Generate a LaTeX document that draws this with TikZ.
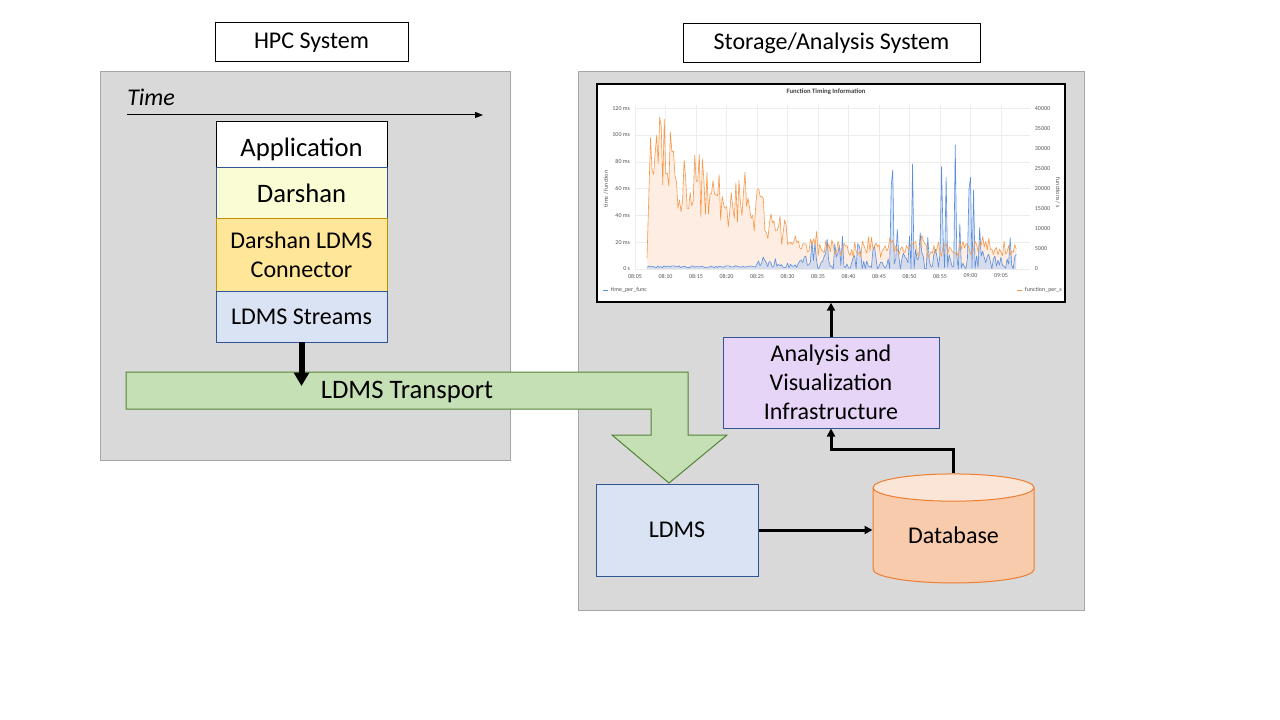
\documentclass[tikz,border=0pt]{standalone}
\usepackage{fontspec}
\setmainfont{Carlito}
\usetikzlibrary{arrows.meta,positioning,calc,shapes.geometric}
\definecolor{panelgray}{HTML}{D9D9D9}
\definecolor{paneledge}{HTML}{A6A6A6}
\definecolor{darshanfill}{HTML}{FAFCD3}
\definecolor{connfill}{HTML}{FFE699}
\definecolor{connedge}{HTML}{BF9000}
\definecolor{ldmsfill}{HTML}{DAE3F3}
\definecolor{ldmsedge}{HTML}{2F5597}
\definecolor{anafill}{HTML}{E6D5F7}
\definecolor{dbfill}{HTML}{F8CBAD}
\definecolor{dbtop}{HTML}{FBE5D6}
\definecolor{dbedge}{HTML}{ED7D31}
\definecolor{transfill}{HTML}{C5E0B4}
\definecolor{transedge}{HTML}{548235}
\definecolor{gridgray}{HTML}{EDEDED}
\definecolor{seriesorange}{HTML}{F7994A}
\definecolor{seriesblue}{HTML}{5A8FE0}
\definecolor{orangearea}{HTML}{FDEDE2}
\definecolor{chartlabel}{HTML}{555555}
\tikzset{
	%Define standard arrow tip
	>={Triangle[length=6pt,width=6pt]},
	%Define style for the grey panels
	panel/.style={rectangle, fill=panelgray, draw=paneledge, line width=0.75pt, inner sep=0pt},
	%Define style for the titles
	titlebox/.style={
		rectangle,
		draw=black, fill=white, line width=0.75pt,
		minimum height=29.25pt,
		font=\fontsize{18}{21}\selectfont},
	%Define style for the software stack
	layer/.style={
		rectangle,
		line width=0.75pt,
		minimum width=128.25pt,
		inner sep=0pt, outer sep=0pt,
		align=center},
	%Define style for boxes
	block/.style={
		rectangle,
		draw=ldmsedge, line width=0.75pt,
		align=center,
		font=\fontsize{18}{21.75}\selectfont},
	% Define arrow style
	pil/.style={
		->,
		line width=2.25pt},
	thickpil/.style={
		-{Triangle[length=10pt,width=11pt]},
		line width=4.5pt},
	% Define chart label style
	ticklabel/.style={font=\fontsize{4.5}{5}\selectfont, text=chartlabel, inner sep=0.5pt},
	declare function={
		envo(\t)=(\t<10)*(95-2.857*(\t-3)) + (\t>=10)*(\t<20)*(75-2.3*(\t-10))
			+ (\t>=20)*(\t<22)*(52-8*(\t-20)) + (\t>=22)*(\t<30)*(36-2.25*(\t-22)) + (\t>=30)*16;
		valo(\t)=envo(\t)*(0.5+0.7*rnd)+8*rnd^3;
		valb(\t)=(\t<20)*(1+1.5*rnd) + (\t>=20)*(\t<28)*(1+8*rnd^2)
			+ (\t>=28)*(\t<40)*(12*rnd^2+22*rnd^6) + (\t>=40)*(12*rnd^2+95*rnd^10);
	}
}

\begin{document}
\begin{tikzpicture}[x=0.75pt, y=-0.75pt]
	\useasboundingbox (0,0) rectangle (1280,720);
	% panels
	\node[panel, minimum width=307.5pt, minimum height=291pt] (hpc) at (305,266) {};
	\node[panel, minimum width=379.5pt, minimum height=403.5pt] (store) at (831,341) {};
	% titles
	\node[titlebox, minimum width=144.75pt] (hpctitle) at (311.5,42.5) {HPC System};
	\node[titlebox, minimum width=222.75pt] (storetitle) at (831.5,43.5) {Storage/Analysis System};
	% time axis
	\node[anchor=west, inner sep=0pt, font=\fontsize{18}{21}\selectfont\itshape] (time) at (127,97) {Time};
	\coordinate (t0) at (127,115);
	\coordinate (t1) at (483,115);
	\draw[-{Triangle[length=6pt,width=4.5pt]}, line width=0.75pt] (t0) -- (t1);
	% software stack
	\node[layer, draw=black, fill=white, minimum height=34.5pt, text height=21pt, font=\fontsize{20}{24}\selectfont] (app) at (301.5,145) {Application};
	\node[layer, draw=ldmsedge, fill=darshanfill, minimum height=38.25pt, font=\fontsize{20}{24}\selectfont, below=0pt of app] (darshan) {Darshan};
	\node[layer, draw=connedge, fill=connfill, minimum height=54pt, font=\fontsize{18}{21.75}\selectfont, below=0pt of darshan] (conn) {Darshan LDMS\\Connector};
	\node[layer, draw=ldmsedge, fill=ldmsfill, minimum height=38.25pt, font=\fontsize{18}{21.75}\selectfont, below=0pt of conn] (streams) {LDMS Streams};
	% LDMS transport
	\draw[fill=transfill, draw=transedge, line width=0.75pt]
		(126,372) -- (688,372) -- (688,435) -- (727,435) -- (669,483) -- (612,435)
		-- (651,435) -- (651,409) -- (126,409) -- cycle;
	\node[font=\fontsize{20}{24}\selectfont] (transport) at (407,392) {LDMS Transport};
	\coordinate (drop) at (301.5,386);
	\draw[thickpil] (streams.south) -- (drop);
	% storage side
	\node[block, fill=ldmsfill, minimum width=121.5pt, minimum height=69pt] (ldms) at (677,530) {LDMS};
	\node[cylinder, shape border rotate=90, aspect=0.3, draw=dbedge, line width=0.75pt,
		cylinder uses custom fill, cylinder body fill=dbfill, cylinder end fill=dbtop,
		minimum width=120.75pt, minimum height=81.75pt, inner sep=0pt,
		font=\fontsize{18}{21.75}\selectfont] (db) at (953.5,535.5) {Database};
	\node[block, fill=anafill, minimum width=162pt, minimum height=68.25pt] (ana) at (831,382.5) {Analysis and\\Visualization\\Infrastructure};
	% chart
	\node[rectangle, draw=black, fill=white, line width=1.1pt, minimum width=351pt, minimum height=163.5pt] (chart) at (831,193) {};
	\foreach \k in {0,...,12}
		\draw[gridgray, line width=0.4pt] ({635+30.5*\k},105) -- ({635+30.5*\k},269);
	\foreach \k in {0,...,6}
		\draw[gridgray, line width=0.4pt] (635,{269-26.8*\k}) -- (1030,{269-26.8*\k});
	\foreach \k/\lab in {0/0 s,1/20 ms,2/40 ms,3/60 ms,4/80 ms,5/100 ms,6/120 ms}
		\node[ticklabel, anchor=east] (yl\k) at (631,{269-26.8*\k}) {\lab};
	\foreach \k/\lab in {0/0,1/5000,2/10000,3/15000,4/20000,5/25000,6/30000,7/35000,8/40000}
		\node[ticklabel, anchor=west] (yr\k) at (1034,{269-20.1*\k}) {\lab};
	\foreach \k/\lab in {0/08:05,1/08:10,2/08:15,3/08:20,4/08:25,5/08:30,6/08:35,7/08:40,8/08:45,9/08:50,10/08:55,11/09:00,12/09:05}
		\node[ticklabel] (xl\k) at ({635+30.5*\k},276) {\lab};
	\node[ticklabel, font=\fontsize{5}{6}\selectfont\bfseries, text=black!75] (ctitle) at (826,92) {Function Timing Information};
	\node[ticklabel, rotate=90] (ylab) at (606,189) {time / function};
	\node[ticklabel, rotate=-90] (yrlab) at (1058,193) {functions / s};
	% series
	\pgfmathsetseed{7}
	\fill[orangearea] (647,269) -- (647,258) -- plot[domain=2.3:62.5, samples=242] ({635+6.1*\x}, {269-1.34*valo(\x)}) -- (1016,269) -- cycle;
	\pgfmathsetseed{11}
	\fill[seriesblue!40, opacity=0.6] (647,269) -- plot[domain=2:62.5, samples=243] ({635+6.1*\x}, {269-1.34*valb(\x)}) -- (1016,269) -- cycle;
	\pgfmathsetseed{11}
	\draw[seriesblue, line width=0.45pt, line join=round] plot[domain=2:62.5, samples=243] ({635+6.1*\x}, {269-1.34*valb(\x)});
	\pgfmathsetseed{7}
	\draw[seriesorange, line width=0.45pt, line join=round] (647,258) -- plot[domain=2.3:62.5, samples=242] ({635+6.1*\x}, {269-1.34*valo(\x)});
	% legend
	\coordinate (lb0) at (603,290);
	\coordinate (lb1) at (608,290);
	\draw[seriesblue, line width=0.6pt] (lb0) -- (lb1);
	\node[ticklabel, anchor=west] (legb) at (610,290) {time\_per\_func};
	\coordinate (lo0) at (1017,290);
	\coordinate (lo1) at (1022,290);
	\draw[seriesorange, line width=0.6pt] (lo0) -- (lo1);
	\node[ticklabel, anchor=west] (lego) at (1024,290) {function\_per\_s};
	% connectors
	\draw[pil] (ldms.east) -- (ldms.east -| db.west);
	\draw[pil] (db.north) -- ++(0,-24) -| (ana.south);
	\draw[pil] (ana.north) -- (chart.south);
\end{tikzpicture}
\end{document}
